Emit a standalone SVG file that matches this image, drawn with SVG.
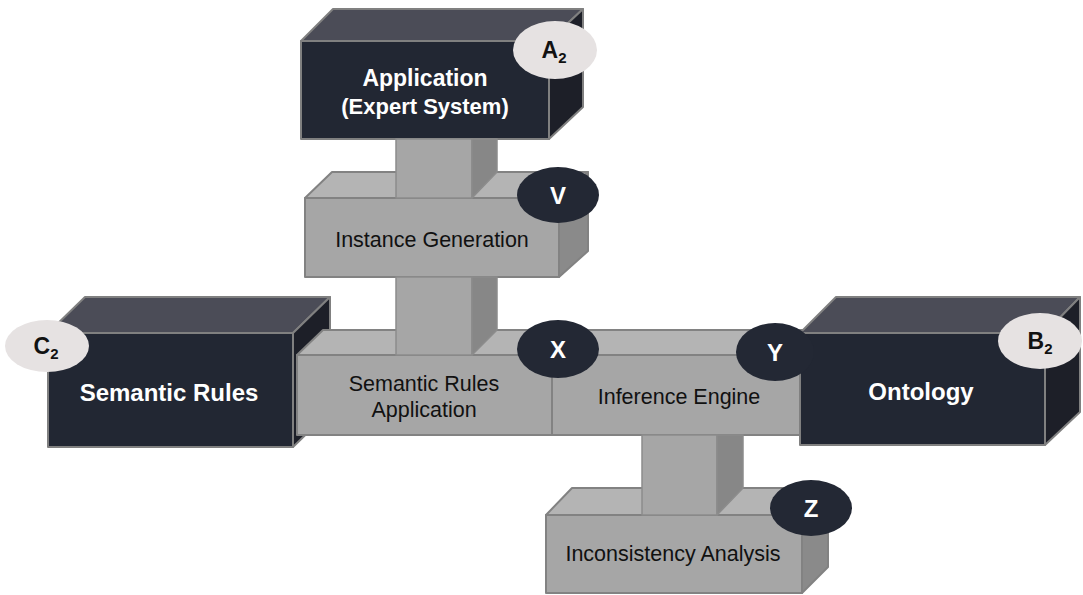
<svg xmlns="http://www.w3.org/2000/svg" width="1083" height="595" viewBox="0 0 1083 595">
<style>
.df{fill:#222733;stroke:#808080;stroke-width:2;stroke-linejoin:round}
.dt{fill:#4b4c57;stroke:#808080;stroke-width:2;stroke-linejoin:round}
.dr{fill:#1d1f28;stroke:#808080;stroke-width:2;stroke-linejoin:round}
.lf{fill:#a6a6a6;stroke:#828282;stroke-width:2;stroke-linejoin:round}
.lt{fill:#b4b4b4;stroke:#828282;stroke-width:2;stroke-linejoin:round}
.lr{fill:#8a8a8a;stroke:#828282;stroke-width:2;stroke-linejoin:round}
.pf{fill:#a6a6a6;stroke:#8c8c8c;stroke-width:1.5;stroke-linejoin:round}
.ps{fill:#878787;stroke:#8c8c8c;stroke-width:1.5;stroke-linejoin:round}
.wt{font-family:"Liberation Sans",Arial,sans-serif;font-weight:bold;fill:#ffffff;text-anchor:middle}
.bt{font-family:"Liberation Sans",Arial,sans-serif;fill:#111111;text-anchor:middle;font-size:21.5px}
.be{fill:#232834}
.le{fill:#e6e2e2}
.bl{font-family:"Liberation Sans",Arial,sans-serif;font-weight:bold;fill:#ffffff;text-anchor:middle;font-size:24px}
.ll{font-family:"Liberation Sans",Arial,sans-serif;font-weight:bold;fill:#111111;text-anchor:middle;font-size:23px}
</style>
<rect width="1083" height="595" fill="#ffffff"/>

<g id="inconsistency-analysis">
<polygon class="lt" points="546,515 572,488 828,488 802,515"/>
<polygon class="lr" points="802,515 828,488 828,567 802,593"/>
<rect class="lf" x="546" y="515" width="256" height="78"/>
<text class="bt" x="673" y="561">Inconsistency Analysis</text>
<ellipse class="be" cx="811" cy="508" rx="41" ry="28"/>
<text class="bl" x="811" y="517">Z</text>
</g>

<g id="semantic-rules">
<polygon class="dt" points="48,333 85,297 330,297 293,333"/>
<polygon class="dr" points="293,333 330,297 330,411 293,447"/>
<rect class="df" x="48" y="333" width="245" height="114"/>
<text class="wt" x="169" y="401" font-size="24">Semantic Rules</text>
<ellipse class="le" cx="47" cy="346" rx="42" ry="26"/>
<text class="ll" x="46" y="354">C<tspan font-size="15" dy="5">2</tspan></text>
</g>

<g id="semantic-rules-application">
<polygon class="lt" points="297,355 323,330 578,330 552,355"/>
<rect class="lf" x="297" y="355" width="255" height="80"/>
<text class="bt" x="424" y="391">Semantic Rules</text>
<text class="bt" x="424" y="417">Application</text>
</g>

<g id="inference-engine">
<polygon class="lt" points="552,355 578,330 830,330 804,355"/>
<rect class="lf" x="552" y="355" width="252" height="80"/>
<text class="bt" x="679" y="404">Inference Engine</text>
</g>

<g id="ontology">
<polygon class="dt" points="800,333 836,297 1080,297 1045,333"/>
<polygon class="dr" points="1045,333 1080,297 1080,412 1045,445"/>
<rect class="df" x="800" y="333" width="245" height="112"/>
<text class="wt" x="921" y="400" font-size="24">Ontology</text>
<ellipse class="le" cx="1040" cy="341" rx="42" ry="28"/>
<text class="ll" x="1040" y="349">B<tspan font-size="15" dy="5">2</tspan></text>
</g>

<g id="instance-generation">
<polygon class="lt" points="305,198 332,172 588,172 559,198"/>
<polygon class="lr" points="559,198 588,172 588,251 559,277"/>
<rect class="lf" x="305" y="198" width="254" height="79"/>
<text class="bt" x="432" y="247">Instance Generation</text>
</g>

<g id="application">
<polygon class="dt" points="301,41 333,9 583,9 549,41"/>
<polygon class="dr" points="549,41 583,9 583,107 549,139"/>
<rect class="df" x="301" y="41" width="248" height="98"/>
<text class="wt" x="425" y="86" font-size="23">Application</text>
<text class="wt" x="425" y="114" font-size="22">(Expert System)</text>
<ellipse class="le" cx="555" cy="50" rx="42" ry="29"/>
<text class="ll" x="554" y="58">A<tspan font-size="15" dy="5">2</tspan></text>
</g>

<g id="connectors">
<rect class="pf" x="396" y="139" width="76" height="59"/>
<polygon class="ps" points="472,139 497,139 497,172 472,198"/>
<rect class="pf" x="396" y="277" width="76" height="78"/>
<polygon class="ps" points="472,277 497,277 497,330 472,355"/>
<rect class="pf" x="642" y="435" width="75" height="80"/>
<polygon class="ps" points="717,435 743,435 743,488 717,515"/>
</g>

<g id="badges">
<ellipse class="be" cx="558" cy="195" rx="41" ry="28"/>
<text class="bl" x="558" y="204">V</text>
<ellipse class="be" cx="558" cy="349" rx="41" ry="29"/>
<text class="bl" x="558" y="358">X</text>
<ellipse class="be" cx="775" cy="352" rx="39" ry="29"/>
<text class="bl" x="775" y="361">Y</text>
</g>
</svg>
